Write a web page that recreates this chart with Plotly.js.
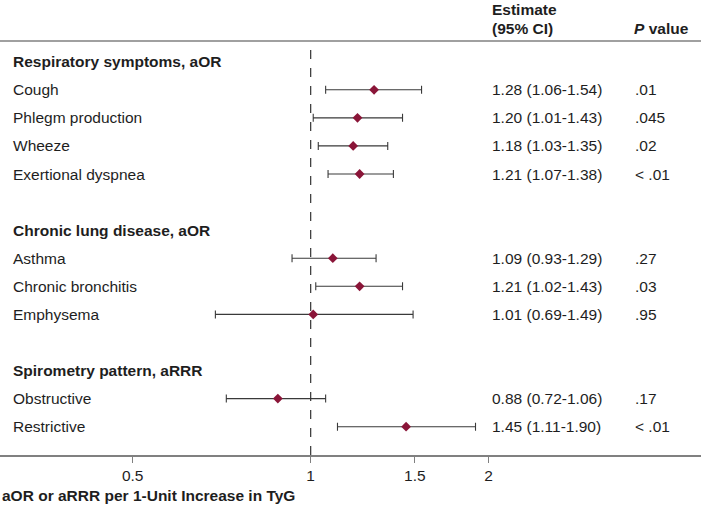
<!DOCTYPE html>
<html>
<head>
<meta charset="utf-8">
<script src="https://cdn.plot.ly/plotly-3.0.1.min.js"></script>
<style>html,body{margin:0;padding:0;background:#fff;}#chart{width:701px;height:505px;}</style>
</head>
<body>
<div id="chart"></div>
<script>
const groups = ["Respiratory symptoms, aOR", "Chronic lung disease, aOR", "Spirometry pattern, aRRR"];
const outcomes = ["Cough", "Phlegm production", "Wheeze", "Exertional dyspnea", "Asthma", "Chronic bronchitis", "Emphysema", "Obstructive", "Restrictive"];
const outcomeGroup = [0, 0, 0, 0, 1, 1, 1, 2, 2];
const estimate = [1.28, 1.20, 1.18, 1.21, 1.09, 1.21, 1.01, 0.88, 1.45];
const lower = [1.06, 1.01, 1.03, 1.07, 0.93, 1.02, 0.69, 0.72, 1.11];
const upper = [1.54, 1.43, 1.35, 1.38, 1.29, 1.43, 1.49, 1.06, 1.90];
const pValues = [".01", ".045", ".02", "< .01", ".27", ".03", ".95", ".17", "< .01"];
const xTicks = [0.5, 1, 1.5, 2];
const xTickLabels = ["0.5", "1", "1.5", "2"];

// row layout: each group = header row + outcome rows, blank row between groups
const groupRow = [];
const outcomeRow = [];
let r = 0;
groups.forEach((g, gi) => {
  if (gi > 0) r += 1;
  groupRow.push(r); r += 1;
  outcomes.forEach((o, oi) => { if (outcomeGroup[oi] === gi) { outcomeRow[oi] = r; r += 1; } });
});

const FONT = '"Liberation Sans", Arial, Helvetica, sans-serif';
const TXT = '#1e1e1e';
const FS = 15.5;
const X_LABEL = 0.0157, X_EST = 0.6984, X_P = 0.9036;

const annotations = [];
groups.forEach((g, gi) => annotations.push({
  xref: 'paper', yref: 'y', x: X_LABEL, y: groupRow[gi], xanchor: 'left', yanchor: 'middle',
  text: '<b>' + g + '</b>', showarrow: false, font: {family: FONT, size: FS, color: TXT}
}));
outcomes.forEach((o, i) => {
  annotations.push({xref: 'paper', yref: 'y', x: X_LABEL, y: outcomeRow[i], xanchor: 'left', yanchor: 'middle',
    text: o, showarrow: false, font: {family: FONT, size: FS, color: TXT}});
  annotations.push({xref: 'paper', yref: 'y', x: X_EST, y: outcomeRow[i], xanchor: 'left', yanchor: 'middle',
    text: estimate[i].toFixed(2) + ' (' + lower[i].toFixed(2) + '-' + upper[i].toFixed(2) + ')',
    showarrow: false, font: {family: FONT, size: FS, color: TXT}});
  annotations.push({xref: 'paper', yref: 'y', x: X_P, y: outcomeRow[i], xanchor: 'left', yanchor: 'middle',
    text: pValues[i], showarrow: false, font: {family: FONT, size: FS, color: TXT}});
});
annotations.push({xref: 'paper', yref: 'paper', x: X_EST, y: 1.0749, xanchor: 'left', yanchor: 'middle',
  text: '<b>Estimate</b>', showarrow: false, font: {family: FONT, size: FS, color: TXT}});
annotations.push({xref: 'paper', yref: 'paper', x: X_EST, y: 1.0302, xanchor: 'left', yanchor: 'middle',
  text: '<b>(95% CI)</b>', showarrow: false, font: {family: FONT, size: FS, color: TXT}});
annotations.push({xref: 'paper', yref: 'paper', x: X_P - 0.0014, y: 1.0302, xanchor: 'left', yanchor: 'middle',
  text: '<b><i>P</i> value</b>', showarrow: false, font: {family: FONT, size: FS, color: TXT}});
annotations.push({xref: 'paper', yref: 'paper', x: 0.0007, y: -0.097, xanchor: 'left', yanchor: 'middle',
  text: '<b>aOR or aRRR per 1-Unit Increase in TyG</b>', showarrow: false, font: {family: FONT, size: FS, color: TXT}});

const trace = {
  type: 'scatter', mode: 'markers',
  x: estimate, y: outcomeRow,
  marker: {symbol: 'diamond', size: 7.5, color: '#8a1538'},
  error_x: {type: 'data', symmetric: false,
    array: upper.map((u, i) => u - estimate[i]),
    arrayminus: lower.map((l, i) => estimate[i] - l),
    color: '#3a3a3a', thickness: 1.1, width: 4},
  cliponaxis: false, hoverinfo: 'skip'
};

const layout = {
  width: 701, height: 505,
  margin: {l: 0, r: 0, t: 41, b: 50, pad: 0},
  paper_bgcolor: '#ffffff', plot_bgcolor: '#ffffff',
  showlegend: false,
  font: {family: FONT, size: FS, color: TXT},
  xaxis: {type: 'log', range: [-0.5254, 0.6601], tickmode: 'array', tickvals: xTicks, ticktext: xTickLabels,
    showgrid: false, zeroline: false, showline: true, linecolor: '#808080', linewidth: 1.5,
    ticks: 'outside', ticklen: 6, tickcolor: '#808080', tickwidth: 1.2,
    tickfont: {family: FONT, size: FS, color: TXT}, fixedrange: true},
  yaxis: {range: [14.008, -0.737], showgrid: false, zeroline: false, showline: false,
    showticklabels: false, ticks: '', fixedrange: true},
  shapes: [
    {type: 'line', xref: 'x', yref: 'paper', x0: 1, x1: 1, y0: 0, y1: 1,
      line: {color: '#333333', width: 1.2, dash: 'dash'}},
    {type: 'line', xref: 'paper', yref: 'paper', x0: 0, x1: 1, y0: 1, y1: 1,
      line: {color: '#808080', width: 1.5}}
  ],
  annotations: annotations
};

Plotly.newPlot('chart', [trace], layout, {displayModeBar: false, staticPlot: true});
</script>
</body>
</html>
